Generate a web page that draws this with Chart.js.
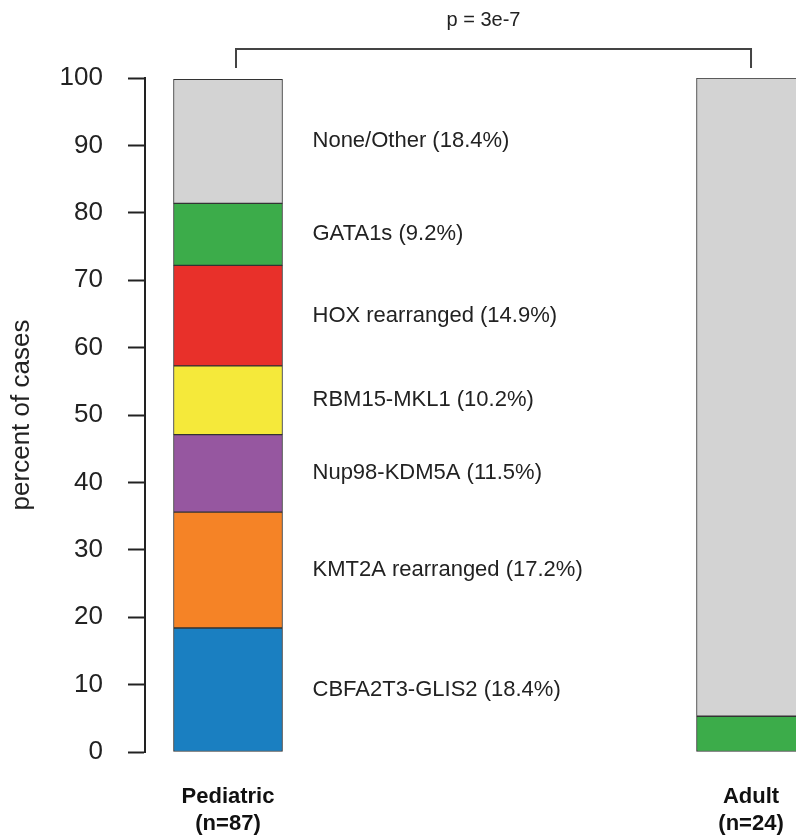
<!DOCTYPE html>
<html>
<head>
<meta charset="utf-8">
<title>Subtype distribution</title>
<script src="https://cdn.jsdelivr.net/npm/chart.js@4.4.1/dist/chart.umd.min.js"></script>
<style>
    html, body { margin: 0; padding: 0; background: #fff; overflow: hidden; }
    canvas { display: block; }
</style>
</head>
<body>
<canvas id="subtype-chart" width="796" height="839"></canvas>
<script>
/* ── Chart data ── */
var groups = ['Pediatric', 'Adult'];
var groupN = [87, 24];
var subtypes = ['CBFA2T3-GLIS2', 'KMT2A rearranged', 'Nup98-KDM5A', 'RBM15-MKL1', 'HOX rearranged', 'GATA1s', 'None/Other'];
var pediatricPct = [18.4, 17.2, 11.5, 10.2, 14.9, 9.2, 18.4];
var adultPct = [null, null, null, null, null, 5.3, 94.7];
var yTicks = [0, 10, 20, 30, 40, 50, 60, 70, 80, 90, 100];
var pValueText = 'p = 3e-7';

var subtypeColors = ['#1a7fc1', '#f58326', '#9657a0', '#f5e93a', '#e8302a', '#3cac4a', '#d3d3d3'];
var FONT = '"Liberation Sans", Arial, Helvetica, sans-serif';
var BAR_W = 109;

// stacked datasets, one per subtype
var datasets = subtypes.map(function (name, i) {
    return {
        label: name,
        data: [
            { x: 0, y: pediatricPct[i] },
            { x: 1, y: adultPct[i] }
        ],
        backgroundColor: subtypeColors[i],
        borderColor: '#333',
        borderWidth: 1,
        borderSkipped: false,
        barThickness: BAR_W
    };
});

// segment labels beside the pediatric bar
var segmentLabels = {
    id: 'segmentLabels',
    afterDatasetsDraw: function (chart) {
        var ctx = chart.ctx, xs = chart.scales.x, ys = chart.scales.y;
        var x = xs.getPixelForValue(0) + BAR_W / 2 + 30;
        var base = 0;
        ctx.save();
        ctx.font = '22px ' + FONT;
        ctx.fillStyle = '#222';
        ctx.textAlign = 'left';
        ctx.textBaseline = 'middle';
        pediatricPct.forEach(function (v, i) {
            var y = ys.getPixelForValue(base + v / 2);
            ctx.fillText(subtypes[i] + ' (' + v + '%)', x, y);
            base += v;
        });
        ctx.restore();
    }
};

// significance bracket across the two groups
var pBracket = {
    id: 'pBracket',
    afterDraw: function (chart) {
        var ctx = chart.ctx, xs = chart.scales.x, ys = chart.scales.y;
        var x0 = xs.getPixelForValue(0) + 8;
        var x1 = xs.getPixelForValue(1);
        var top = ys.getPixelForValue(100);
        var yLine = top - 29, yLeg = top - 10;
        ctx.save();
        ctx.strokeStyle = '#444';
        ctx.lineWidth = 2;
        ctx.beginPath();
        ctx.moveTo(x0, yLeg);
        ctx.lineTo(x0, yLine);
        ctx.lineTo(x1, yLine);
        ctx.lineTo(x1, yLeg);
        ctx.stroke();
        ctx.font = '20px ' + FONT;
        ctx.fillStyle = '#222';
        ctx.textAlign = 'center';
        ctx.textBaseline = 'middle';
        ctx.fillText(pValueText, (x0 + x1) / 2 - 10, top - 58);
        ctx.restore();
    }
};

var ctx = document.getElementById('subtype-chart').getContext('2d');
new Chart(ctx, {
    type: 'bar',
    data: { datasets: datasets },
    options: {
        responsive: false,
        animation: false,
        layout: { padding: { top: 78, left: 0, right: 0, bottom: 0 } },
        plugins: {
            legend: { display: false },
            tooltip: { enabled: false },
            title: { display: false }
        },
        scales: {
            x: {
                type: 'linear',
                stacked: true,
                offset: false,
                min: -0.1587,
                max: 1.086,
                afterBuildTicks: function (s) {
                    s.ticks = groups.map(function (g, i) { return { value: i }; });
                },
                afterFit: function (s) {
                    s.height = 87;
                    s.paddingLeft = 0;
                    s.paddingRight = 0;
                },
                grid: { display: false, drawTicks: false, offset: false },
                border: { display: false },
                ticks: {
                    autoSkip: false,
                    maxRotation: 0,
                    padding: 32,
                    color: '#111',
                    font: { family: FONT, size: 22, weight: 'bold', lineHeight: 1.2 },
                    callback: function (v, i) {
                        return [groups[i], '(n=' + groupN[i] + ')'];
                    }
                }
            },
            y: {
                stacked: true,
                min: 0,
                max: 100,
                afterBuildTicks: function (s) {
                    s.ticks = yTicks.map(function (t) { return { value: t }; });
                },
                afterFit: function (s) { s.width = 145; },
                grid: {
                    display: true,
                    drawOnChartArea: false,
                    drawTicks: true,
                    tickLength: 17,
                    tickWidth: 2,
                    tickColor: '#222'
                },
                border: { display: true, color: '#222', width: 2 },
                ticks: {
                    padding: 25,
                    color: '#222',
                    font: { family: FONT, size: 26 }
                },
                title: {
                    display: true,
                    text: 'percent of cases',
                    color: '#222',
                    font: { family: FONT, size: 26 },
                    padding: { top: 6, bottom: 0 }
                }
            }
        }
    },
    plugins: [segmentLabels, pBracket]
});
</script>
</body>
</html>
